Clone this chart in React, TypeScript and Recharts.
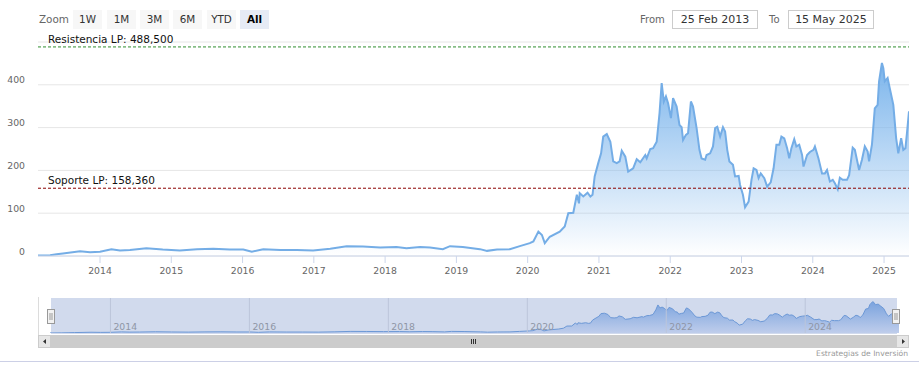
import React from 'react';
import { AreaChart, Area, XAxis, YAxis, CartesianGrid, ReferenceLine } from 'recharts';

const years = [
  2013.13, 2013.16, 2013.30, 2013.39, 2013.48, 2013.72, 2013.86, 2014.00, 2014.16, 2014.28,
  2014.42, 2014.65, 2014.88, 2015.12, 2015.36, 2015.59, 2015.82, 2016.01, 2016.13, 2016.29,
  2016.53, 2016.76, 2016.99, 2017.23, 2017.46, 2017.69, 2017.93, 2018.16, 2018.30, 2018.49,
  2018.63, 2018.81, 2018.91, 2019.09, 2019.33, 2019.43, 2019.57, 2019.75, 2019.89, 2020.03,
  2020.08, 2020.15, 2020.20, 2020.24, 2020.31, 2020.45, 2020.52, 2020.57, 2020.64, 2020.69,
  2020.72, 2020.73, 2020.78, 2020.84, 2020.88, 2020.91, 2020.94, 2020.99, 2021.03, 2021.06,
  2021.11, 2021.16, 2021.20, 2021.25, 2021.29, 2021.32, 2021.37, 2021.41, 2021.48, 2021.53,
  2021.58, 2021.65, 2021.67, 2021.72, 2021.76, 2021.81, 2021.85, 2021.88, 2021.91, 2021.94,
  2021.97, 2022.01, 2022.04, 2022.09, 2022.13, 2022.16, 2022.18, 2022.22, 2022.25, 2022.29,
  2022.32, 2022.37, 2022.41, 2022.44, 2022.49, 2022.51, 2022.56, 2022.60, 2022.63, 2022.66,
  2022.70, 2022.74, 2022.77, 2022.80, 2022.83, 2022.88, 2022.91, 2022.96, 2022.98, 2023.02,
  2023.05, 2023.10, 2023.14, 2023.17, 2023.21, 2023.24, 2023.27, 2023.32, 2023.36, 2023.41,
  2023.45, 2023.49, 2023.53, 2023.56, 2023.60, 2023.64, 2023.67, 2023.70, 2023.74, 2023.77,
  2023.81, 2023.85, 2023.87, 2023.92, 2023.96, 2024.01, 2024.03, 2024.08, 2024.13, 2024.17,
  2024.20, 2024.24, 2024.28, 2024.31, 2024.35, 2024.38, 2024.42, 2024.48, 2024.51, 2024.56,
  2024.59, 2024.65, 2024.69, 2024.73, 2024.77, 2024.79, 2024.83, 2024.87, 2024.91, 2024.93,
  2024.97, 2024.99, 2025.01, 2025.05, 2025.08, 2025.13, 2025.17, 2025.20, 2025.24, 2025.27,
  2025.30, 2025.32, 2025.35,
];

const prices = [
  1, 1, 2, 4, 6, 11, 9, 10, 16, 13,
  14, 18, 15, 13, 16, 17, 15, 15, 10, 16,
  14, 14, 13, 17, 23, 22, 20, 21, 18, 21,
  20, 16, 23, 21, 16, 12, 15, 16, 23, 30,
  34, 57, 49, 30, 45, 57, 69, 100, 101, 143,
  123, 147, 139, 148, 139, 143, 186, 217, 240, 279,
  285, 267, 221, 217, 221, 246, 232, 197, 205, 226,
  219, 236, 228, 250, 252, 267, 334, 404, 361, 373,
  357, 322, 369, 349, 306, 301, 271, 283, 287, 361,
  349, 299, 248, 228, 225, 236, 240, 256, 299, 302,
  279, 301, 291, 248, 221, 213, 186, 187, 166, 143,
  114, 127, 178, 205, 201, 182, 193, 182, 162, 172,
  205, 260, 260, 279, 275, 252, 228, 252, 273, 256,
  260, 236, 209, 236, 243, 248, 256, 228, 193, 193,
  201, 174, 178, 170, 156, 183, 178, 178, 189, 253,
  248, 201, 225, 256, 244, 221, 260, 345, 353, 408,
  451, 439, 408, 416, 392, 353, 275, 240, 275, 248,
  252, 285, 338,
];

const yearTicks = [2014, 2015, 2016, 2017, 2018, 2019, 2020, 2021, 2022, 2023, 2024, 2025];
const navYearTicks = [2014, 2016, 2018, 2020, 2022, 2024];
const valueTicks = [0, 100, 200, 300, 400];
const resistance = 488.5;
const support = 158.36;
const resistanceLabel = 'Resistencia LP: 488,500';
const supportLabel = 'Soporte LP: 158,360';
const rangeButtons = ['1W', '1M', '3M', '6M', 'YTD', 'All'];
const selectedButton = 'All';
const fromDate = '25 Feb 2013';
const toDate = '15 May 2025';
const credit = 'Estrategias de Inversión';

const data = years.map((t, i) => ({ t, v: prices[i] }));

const FONT = '"DejaVu Sans", Verdana, sans-serif';
const X_DOMAIN: [number, number] = [2013.13, 2025.35];

const XTick = (props: any) => {
  const { x, payload } = props;
  return (
    <g>
      <line x1={x} x2={x} y1={256} y2={263} stroke="#ccd6eb" strokeWidth={1} />
      <text x={x} y={270} textAnchor="middle" dominantBaseline="central" fontFamily={FONT} fontSize={9.3} fill="#666">
        {payload.value}
      </text>
    </g>
  );
};

const YTick = (props: any) => {
  const { y, payload } = props;
  return (
    <text x={25} y={y - 5} textAnchor="end" dominantBaseline="central" fontFamily={FONT} fontSize={9.3} fill="#666">
      {payload.value}
    </text>
  );
};

const PlotLabel = (props: any) => {
  const { viewBox, text } = props;
  if (!viewBox) return null;
  return (
    <text x={viewBox.x + 10} y={viewBox.y - 4} fontFamily={FONT} fontSize={10.5} fill="#111">
      {text}
    </text>
  );
};

const NavLabel = (props: any) => {
  const { viewBox, text } = props;
  if (!viewBox) return null;
  return (
    <text x={viewBox.x + 3} y={viewBox.y + viewBox.height - 3} fontFamily={FONT} fontSize={9.3} fill="#8f96a6">
      {text}
    </text>
  );
};

const Handle = ({ x }: { x: number }) => (
  <g>
    <rect x={x + 0.5} y={309.5} width={7} height={14} fill="#f2f2f2" stroke="#999" strokeWidth={1} />
    <line x1={x + 3} x2={x + 3} y1={313} y2={320} stroke="#999" />
    <line x1={x + 5} x2={x + 5} y1={313} y2={320} stroke="#999" />
  </g>
);

export default function App() {
  return (
    <div style={{ position: 'absolute', left: 0, top: 0, width: 919, height: 371, background: '#fff', overflow: 'hidden', fontFamily: FONT }}>
      {/* range selector */}
      <div style={{ position: 'absolute', left: 39, top: 10, height: 19, lineHeight: '19px', fontSize: 10.4, color: '#666' }}>Zoom</div>
      {rangeButtons.map((b, i) => {
        const lefts = [73, 107, 140, 173, 207, 240];
        const sel = b === selectedButton;
        return (
          <div
            key={b}
            style={{
              position: 'absolute', left: lefts[i], top: 10, width: 29, height: 19, lineHeight: '19px',
              textAlign: 'center', fontSize: 10.4, background: sel ? '#e6ebf5' : '#f7f7f7',
              color: sel ? '#000' : '#333', fontWeight: sel ? 'bold' : 'normal',
            }}
          >
            {b}
          </div>
        );
      })}
      <div style={{ position: 'absolute', left: 640, top: 10, height: 19, lineHeight: '19px', fontSize: 10, color: '#666' }}>From</div>
      <div style={{ position: 'absolute', left: 672, top: 10, width: 84, height: 17, lineHeight: '17px', border: '1px solid #ccc', textAlign: 'center', fontSize: 11, color: '#333' }}>{fromDate}</div>
      <div style={{ position: 'absolute', left: 769, top: 10, height: 19, lineHeight: '19px', fontSize: 10, color: '#666' }}>To</div>
      <div style={{ position: 'absolute', left: 788, top: 10, width: 84, height: 17, lineHeight: '17px', border: '1px solid #ccc', textAlign: 'center', fontSize: 11, color: '#333' }}>{toDate}</div>

      {/* main chart */}
      <div style={{ position: 'absolute', left: 0, top: 0 }}>
        <AreaChart width={919} height={280} data={data} margin={{ top: 42, right: 10, bottom: 0, left: 0 }}>
          <defs>
            <linearGradient id="mainFill" x1="0" y1="0" x2="0" y2="1">
              <stop offset="0%" stopColor="#7cb5ec" stopOpacity={1} />
              <stop offset="100%" stopColor="#7cb5ec" stopOpacity={0} />
            </linearGradient>
          </defs>
          <CartesianGrid vertical={false} stroke="#e6e6e6" />
          <XAxis
            dataKey="t" type="number" domain={X_DOMAIN} allowDataOverflow ticks={yearTicks} interval={0}
            height={24} tickLine={false} axisLine={{ stroke: '#ccd6eb' }} tick={<XTick />}
          />
          <YAxis
            type="number" domain={[0, 500]} allowDataOverflow ticks={valueTicks} interval={0}
            width={38} tickLine={false} axisLine={false} tick={<YTick />}
          />
          <Area
            type="linear" dataKey="v" stroke="#74ade6" strokeWidth={2} fill="url(#mainFill)"
            fillOpacity={1} dot={false} activeDot={false} isAnimationActive={false} baseValue={0}
          />
          <ReferenceLine y={resistance} stroke="#2f8f2f" strokeDasharray="3 2" strokeWidth={1} label={<PlotLabel text={resistanceLabel} />} />
          <ReferenceLine y={support} stroke="#8b0000" strokeDasharray="3 2" strokeWidth={1} label={<PlotLabel text={supportLabel} />} />
        </AreaChart>
      </div>

      {/* navigator background */}
      <div style={{ position: 'absolute', left: 38, top: 297, width: 1, height: 38, background: '#dcdcdc' }} />
      <div style={{ position: 'absolute', left: 51, top: 298, width: 846, height: 36, background: 'rgba(102,133,194,0.3)' }} />

      {/* navigator chart */}
      <div style={{ position: 'absolute', left: 0, top: 296 }}>
        <AreaChart width={919} height={40} data={data} margin={{ top: 2, right: 20, bottom: 3, left: 50 }}>
          <defs>
            <linearGradient id="navFill" x1="0" y1="0" x2="0" y2="1">
              <stop offset="0%" stopColor="#7aa3de" stopOpacity={1} />
              <stop offset="100%" stopColor="#bfcdeb" stopOpacity={1} />
            </linearGradient>
          </defs>
          <XAxis dataKey="t" type="number" domain={X_DOMAIN} allowDataOverflow hide />
          <YAxis type="number" domain={[0, 504]} allowDataOverflow hide />
          {navYearTicks.map((yr) => (
            <ReferenceLine key={yr} x={yr} stroke="#bcc5da" strokeWidth={1} label={<NavLabel text={String(yr)} />} />
          ))}
          <Area
            type="linear" dataKey="v" stroke="#6c98d6" strokeWidth={1} fill="url(#navFill)"
            fillOpacity={1} dot={false} activeDot={false} isAnimationActive={false} baseValue={0}
          />
        </AreaChart>
      </div>

      {/* handles and scrollbar */}
      <svg width={919} height={371} style={{ position: 'absolute', left: 0, top: 0, pointerEvents: 'none' }}>
        <Handle x={47} />
        <Handle x={892} />
        <rect x={38} y={335} width={871} height={13} fill="#f2f2f2" />
        <rect x={51} y={335} width={845} height={13} fill="#cccccc" />
        <rect x={38.5} y={335.5} width={12} height={12} fill="#e6e6e6" stroke="#cccccc" />
        <rect x={896.5} y={335.5} width={12} height={12} fill="#e6e6e6" stroke="#cccccc" />
        <path d="M 46 339 L 46 344 L 43 341.5 Z" fill="#333" />
        <path d="M 902 339 L 902 344 L 905 341.5 Z" fill="#333" />
        <line x1={471.5} x2={471.5} y1={339} y2={344} stroke="#333" />
        <line x1={473.5} x2={473.5} y1={339} y2={344} stroke="#333" />
        <line x1={475.5} x2={475.5} y1={339} y2={344} stroke="#333" />
        <line x1={0} x2={919} y1={361.5} y2={361.5} stroke="#ccd0e6" />
        <text x={908} y={355.5} textAnchor="end" fontFamily={FONT} fontSize={7.6} fill="#999">
          {credit}
        </text>
      </svg>
    </div>
  );
}
